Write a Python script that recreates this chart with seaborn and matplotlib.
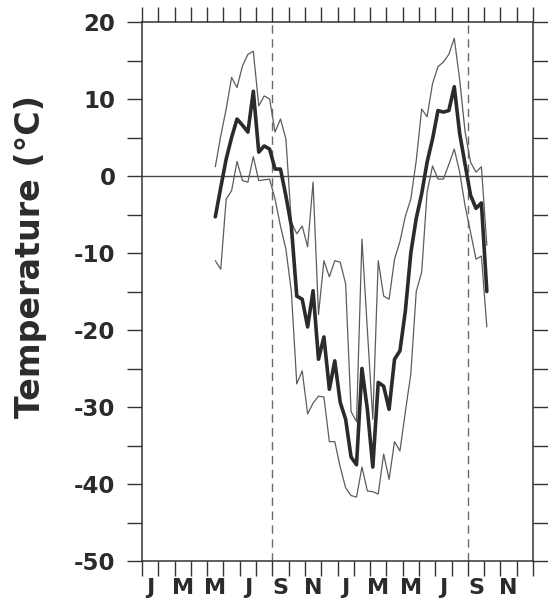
import numpy as np
import pandas as pd
import seaborn as sns
import matplotlib.pyplot as plt
import matplotlib.ticker as mticker

# ten-day (dekad) temperature record, mid-May of year 1 to early October of year 2
mean_temp = [-5.3, -1.5, 2.2, 5.0, 7.4, 6.6, 5.7, 11.0, 3.1, 3.9,
             3.5, 0.9, 0.9, -2.6, -6.5, -15.6, -16.0, -19.6, -14.9, -23.8,
             -20.9, -27.7, -24.0, -29.4, -31.6, -36.5, -37.5, -25.0, -30.3, -37.8,
             -26.8, -27.3, -30.3, -23.8, -22.7, -17.5, -10.0, -5.5, -2.3, 1.8,
             4.8, 8.5, 8.3, 8.5, 11.6, 5.5, 1.5, -2.5, -4.2, -3.5,
             -15.0]
max_temp = [1.2, 5.2, 8.7, 12.8, 11.5, 14.3, 15.8, 16.2, 9.1, 10.4,
            10.0, 5.7, 7.4, 4.8, -6.0, -7.5, -6.5, -9.2, -0.8, -18.0,
            -11.0, -13.1, -11.0, -11.2, -14.0, -30.6, -31.9, -8.2, -20.0, -31.6,
            -11.0, -15.6, -16.0, -10.8, -8.5, -5.2, -3.0, 2.0, 8.7, 7.7,
            12.0, 14.2, 14.8, 15.8, 17.9, 12.5, 5.7, 1.8, 0.5, 1.2,
            -9.0]
min_temp = [-11.0, -12.1, -3.0, -1.9, 1.9, -0.6, -0.8, 2.5, -0.6, -0.5,
            -0.4, -3.0, -6.5, -9.5, -15.0, -27.0, -25.3, -30.9, -29.5, -28.6,
            -28.7, -34.5, -34.5, -37.8, -40.5, -41.5, -41.7, -37.8, -40.9, -41.0,
            -41.3, -36.1, -39.4, -34.5, -35.7, -30.6, -25.7, -15.0, -12.5, -2.1,
            1.3, -0.4, -0.4, 1.5, 3.5, 0.5, -3.9, -7.3, -10.8, -10.4,
            -19.6]

# months counted from 1 January of the first year, one value per dekad
first_month = 4.5
month = first_month + np.arange(len(mean_temp)) / 3

month_labels = ["J", "M", "M", "J", "S", "N"] * 2
september_starts = [8, 20]

data = pd.DataFrame({
    "month": month,
    "mean": mean_temp,
    "max": max_temp,
    "min": min_temp,
})

sns.set_style("ticks")
plt.rcParams["font.family"] = ["DejaVu Sans"]
plt.rcParams["font.weight"] = "bold"
plt.rcParams["axes.unicode_minus"] = False

fig = plt.figure(figsize=(5.48, 6.01), dpi=100)
ax = fig.add_axes([142 / 548, 40 / 601, 391 / 548, 539 / 601])

thin = "#5c5c5c"
sns.lineplot(data=data, x="month", y="max", ax=ax, color=thin, linewidth=0.9)
sns.lineplot(data=data, x="month", y="min", ax=ax, color=thin, linewidth=0.9)
sns.lineplot(data=data, x="month", y="mean", ax=ax, color="#2b2b2b", linewidth=2.6)

ax.axhline(0, color="#4a4a4a", linewidth=1.0, zorder=1)
for m in september_starts:
    ax.axvline(m, color="#6a6a6a", linewidth=1.0, dashes=(6, 4), zorder=1)

ax.set_xlim(0, 24)
ax.set_ylim(-50, 20)

# month boundaries as ticks, labels centred in every other month
ax.xaxis.set_major_locator(mticker.MultipleLocator(1))
ax.xaxis.set_major_formatter(mticker.NullFormatter())
ax.set_xticks(np.arange(0, 24, 2) + 0.5, month_labels, minor=True)
ax.yaxis.set_major_locator(mticker.MultipleLocator(10))
ax.yaxis.set_minor_locator(mticker.MultipleLocator(5))

ax.tick_params(axis="both", which="both", direction="out", length=11, width=1.0,
               color="#333333", top=True, right=True, labelsize=16.5,
               labelcolor="#2b2b2b")
ax.tick_params(axis="x", which="minor", length=0, pad=12, top=False,
               labelsize=16)
ax.tick_params(axis="y", which="major", pad=8)

for s in ax.spines.values():
    s.set_color("#333333")
    s.set_linewidth(1.1)

ax.set_xlabel("")
ax.set_ylabel("")
fig.text(31 / 548, 1 - 256 / 601, "Temperature (°C)", rotation=90,
         ha="center", va="center", fontsize=24, fontweight="bold",
         color="#2b2b2b")

plt.savefig("out.png", dpi=100)
